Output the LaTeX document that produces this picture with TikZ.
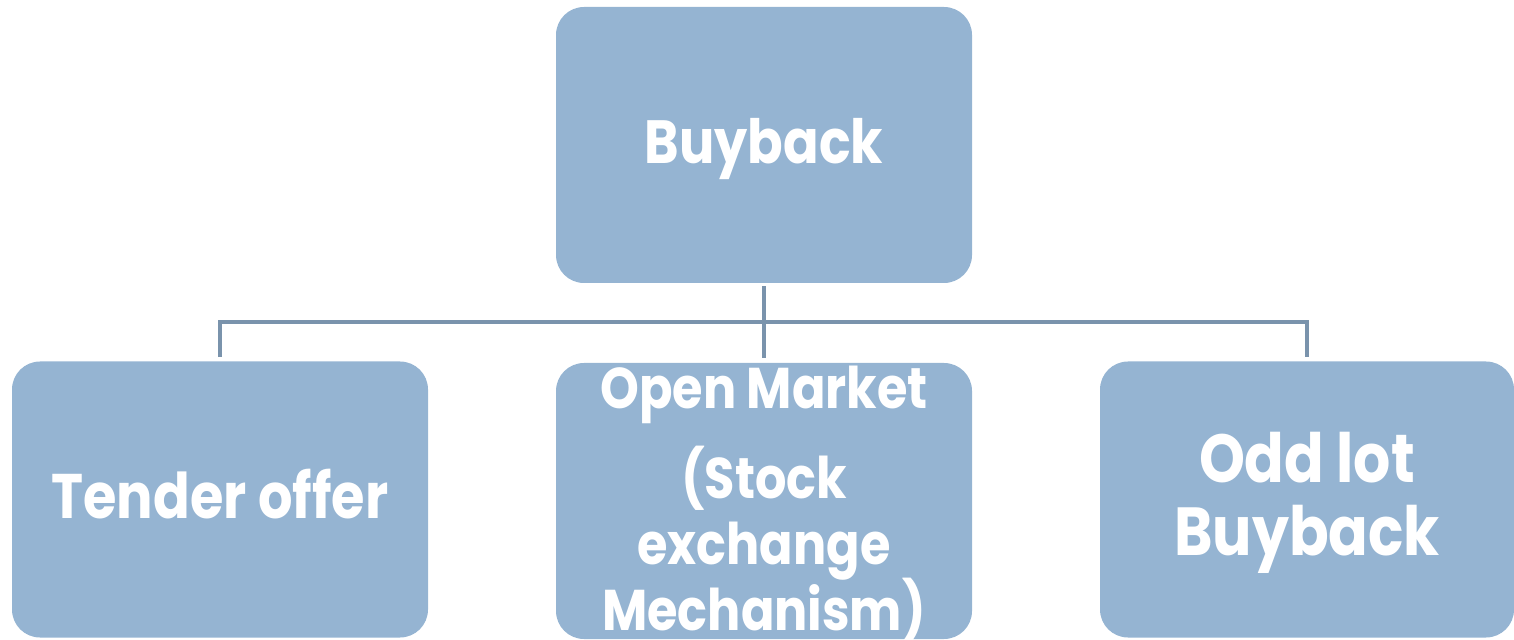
\documentclass[tikz,border=0pt]{standalone}
\usepackage{fontspec}
\setmainfont{Poppins}[FakeStretch=0.86]
\usepackage{tikz}
\definecolor{boxblue}{HTML}{95B4D2}
\definecolor{linegray}{HTML}{7A93AC}
\newcommand{\boxfont}[2]{\bfseries\fontsize{#1}{#2}\selectfont\lineskiplimit=-50pt}

\begin{document}
\begin{tikzpicture}[x=0.5pt,y=-0.5pt,
		buybox/.style={fill=boxblue,rounded corners=14pt,minimum width=208pt,minimum height=138pt,inner sep=0pt,text=white,align=center,text height=18.5pt,text depth=0pt},
		conn/.style={draw=linegray,line width=2pt}]
				\useasboundingbox (0,0) rectangle (1514,640);
				% boxes
				\node[buybox,font=\boxfont{30.5}{36}] (buyback) at (764,145) {Buyback};
				\node[buybox,font=\boxfont{31.5}{36}] (tender) at (220,499.5) {Tender offer};
				\node[buybox] (open) at (764,501) {};
				\node[buybox,minimum width=207pt,text height=55.5pt,font=\boxfont{34}{36}] (oddlot) at (1307,499.5) {Odd lot\\Buyback};
				\node[text=white,align=center,anchor=base,inner sep=0pt,font=\boxfont{28.7}{33}] (opentext) at (764,630) {Open Market\\[12pt](Stock\\exchange\\Mechanism)};
				% connectors
				\coordinate (bus) at (764,322);
				\draw[conn,shorten <=1.5pt,shorten >=2.5pt] (buyback.south) -- (open.north);
				\draw[conn,shorten <=2pt,shorten >=2pt] (tender.north) |- (bus) -| (oddlot.north);
\end{tikzpicture}
\end{document}
